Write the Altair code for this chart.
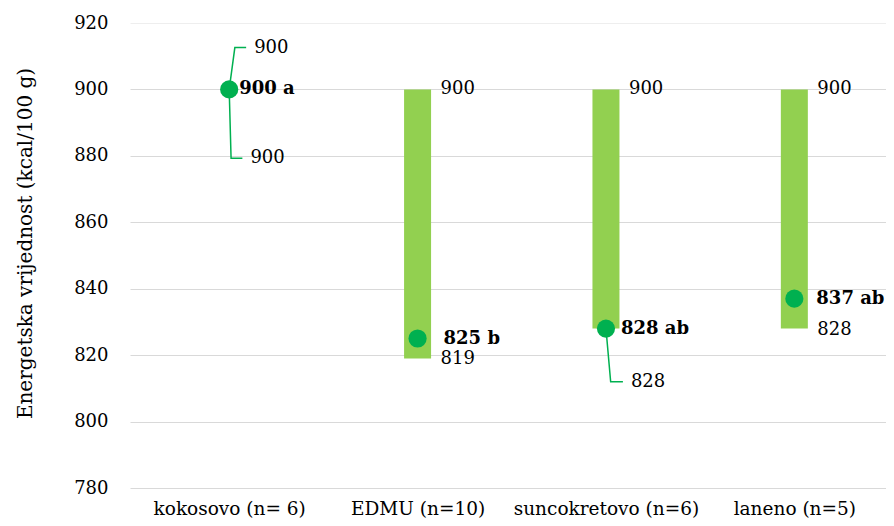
import json
import altair as alt
import pandas as pd

categories = ["kokosovo (n= 6)", "EDMU (n=10)", "suncokretovo (n=6)", "laneno (n=5)"]
min_vals = [900, 819, 828, 828]
max_vals = [900, 900, 900, 900]
mean_vals = [900, 825, 828, 837]
mean_letters = ["a", "b", "ab", "ab"]
y_ticks = [780, 800, 820, 840, 860, 880, 900, 920]

FONT = "DejaVu Serif"
BAR = "#92D050"
DOT = "#00B050"

idx = list(range(len(categories)))
df = pd.DataFrame({
    "i": idx,
    "cat": categories,
    "mn": min_vals,
    "mx": max_vals,
    "mean": mean_vals,
    "lab": [f"{m} {l}" for m, l in zip(mean_vals, mean_letters)],
})

y_scale = alt.Scale(domain=[780, 920], nice=False, zero=False)
x_scale = alt.Scale(domain=[-0.5, 3.46], nice=False, zero=False)
label_expr = json.dumps(categories) + "[datum.value]"

x_enc = alt.X("i:Q", scale=x_scale, axis=alt.Axis(
    values=idx, labelExpr=label_expr, grid=False, ticks=False, domain=False,
    labelFont=FONT, labelFontSize=18.5, labelColor="#000000", labelPadding=11,
    labelFlush=False, labelLimit=0, labelOverlap=False, title=None))

base = alt.Chart(df)

bars = base.mark_bar(size=27, color=BAR).encode(
    x=x_enc,
    y=alt.Y("mn:Q", scale=y_scale, axis=alt.Axis(
        values=y_ticks, grid=True,
        gridColor={"condition": {"test": "datum.value == 920", "value": "#eeeeee"},
                   "value": "#d9d9d9"},
        gridWidth=1,
        ticks=False, domain=False, labelFont=FONT, labelFontSize=18,
        labelColor="#000000", labelPadding=22,
        title="Energetska vrijednost (kcal/100 g)", titleFont=FONT,
        titleFontSize=20, titleFontWeight="normal", titleColor="#000000",
        titlePadding=38, titleY=220)),
    y2="mx:Q",
)

# leader lines (kokosovo max/min labels and suncokretovo min label)
leaders = [
    # (category index, from value, label level, x shift of bend, x shift of end)
    (0, 900, 912.6, 0.03, 0.09),
    (0, 900, 879.3, 0.01, 0.07),
    (2, 828, 812.0, 0.025, 0.09),
]
rows = []
for k, (ci, y0, y1, b, e) in enumerate(leaders):
    rows += [
        {"g": k, "o": 0, "x": ci, "y": y0},
        {"g": k, "o": 1, "x": ci + b, "y": y1},
        {"g": k, "o": 2, "x": ci + e, "y": y1},
    ]
lead_df = pd.DataFrame(rows)
lead = alt.Chart(lead_df).mark_line(color=DOT, strokeWidth=1.5).encode(
    x=alt.X("x:Q", scale=x_scale), y=alt.Y("y:Q", scale=y_scale),
    detail="g:N", order="o:Q")

lead_lab_df = pd.DataFrame({
    "x": [ci + e for (ci, y0, y1, b, e) in leaders],
    "y": [y1 for (ci, y0, y1, b, e) in leaders],
    "t": [str(max_vals[0]), str(min_vals[0]), str(min_vals[2])],
})
lead_labels = alt.Chart(lead_lab_df).mark_text(
    font=FONT, fontSize=18, align="left", baseline="middle", dx=8, color="#000000"
).encode(x=alt.X("x:Q", scale=x_scale), y=alt.Y("y:Q", scale=y_scale), text="t:N")

# max labels beside bar tops (bars with a range)
max_labels = base.transform_filter("datum.i > 0").mark_text(
    font=FONT, fontSize=18, align="left", baseline="middle", dx=23, color="#000000"
).encode(x=alt.X("i:Q", scale=x_scale), y=alt.Y("mx:Q", scale=y_scale), text="mx:N")

min_labels = base.transform_filter("datum.i == 1 || datum.i == 3").mark_text(
    font=FONT, fontSize=18, align="left", baseline="middle", dx=23, dy=1, color="#000000"
).encode(x=alt.X("i:Q", scale=x_scale), y=alt.Y("mn:Q", scale=y_scale), text="mn:N")

points = base.mark_circle(size=330, color=DOT, opacity=1).encode(
    x=alt.X("i:Q", scale=x_scale), y=alt.Y("mean:Q", scale=y_scale))

mean_dx = {0: 10, 1: 26, 2: 15, 3: 22}
mean_layers = []
for ci, d in mean_dx.items():
    mean_layers.append(
        base.transform_filter(f"datum.i == {ci}").mark_text(
            font=FONT, fontSize=18, fontWeight="bold", align="left",
            baseline="middle", dx=d, color="#000000"
        ).encode(x=alt.X("i:Q", scale=x_scale), y=alt.Y("mean:Q", scale=y_scale),
                 text="lab:N"))

chart = alt.layer(bars, lead, points, lead_labels, max_labels, min_labels, *mean_layers).properties(
    width=756, height=465,
    autosize=alt.AutoSizeParams(type="none"),
    padding={"left": 122, "top": 15, "right": 0, "bottom": 30},
).configure_view(stroke=None)

chart.save("out.html", embed_options={"renderer": "svg", "actions": False})
